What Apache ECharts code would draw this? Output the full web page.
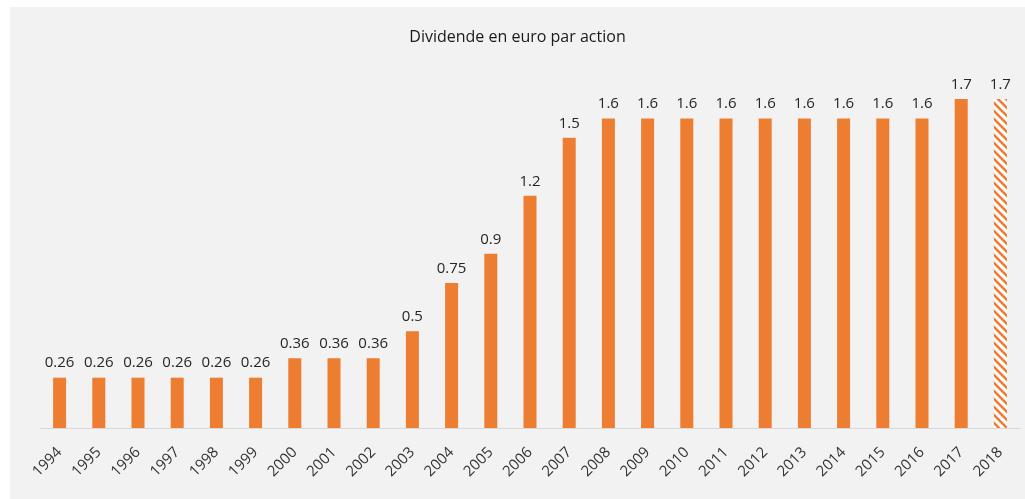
<!DOCTYPE html>
<html>
<head>
<meta charset="utf-8">
<script src="https://cdn.jsdelivr.net/npm/echarts@6/dist/echarts.min.js"></script>
<style>
html,body{margin:0;padding:0;background:#fff;}
#chart{position:absolute;left:10px;top:7px;width:1015px;height:492px;background:#f2f2f2;}
</style>
</head>
<body>
<div id="chart"></div>
<script>
var years = ['1994','1995','1996','1997','1998','1999','2000','2001','2002','2003','2004','2005','2006',
             '2007','2008','2009','2010','2011','2012','2013','2014','2015','2016','2017','2018'];
var dividends = [0.26,0.26,0.26,0.26,0.26,0.26,0.36,0.36,0.36,0.5,0.75,0.9,1.2,
                 1.5,1.6,1.6,1.6,1.6,1.6,1.6,1.6,1.6,1.6,1.7,1.7];
var projected = ['2018'];

// hatch pattern for the projected year
var hatch = document.createElement('canvas');
hatch.width = 8; hatch.height = 8;
var ctx = hatch.getContext('2d');
ctx.fillStyle = '#ffffff';
ctx.fillRect(0, 0, 8, 8);
ctx.strokeStyle = '#ed7d31';
ctx.lineWidth = 2.6;
ctx.beginPath();
ctx.moveTo(-2, -2); ctx.lineTo(10, 10);
ctx.moveTo(-2, 6); ctx.lineTo(2, 10);
ctx.moveTo(6, -2); ctx.lineTo(10, 2);
ctx.stroke();

var barData = dividends.map(function (v, i) {
  var item = {value: v};
  if (projected.indexOf(years[i]) >= 0) {
    item.itemStyle = {color: {image: hatch, repeat: 'repeat'}};
  }
  return item;
});

var chart = echarts.init(document.getElementById('chart'));
chart.setOption({
  backgroundColor: '#f2f2f2',
  textStyle: {fontFamily: 'Open Sans'},
  title: {
    text: 'Dividende en euro par action',
    left: 'center',
    top: 17,
    textStyle: {fontSize: 16, fontWeight: 'normal', color: '#1a1a1a', fontFamily: 'Open Sans'}
  },
  grid: {left: 30, right: 5, top: 34, bottom: 71},
  xAxis: {
    type: 'category',
    data: years,
    axisLine: {lineStyle: {color: '#d9d9d9', width: 1}},
    axisTick: {show: false},
    axisLabel: {rotate: 45, color: '#333333', fontSize: 15, margin: 22, interval: 0}
  },
  yAxis: {
    type: 'value',
    min: 0,
    max: 2,
    show: false
  },
  series: [{
    type: 'bar',
    data: barData,
    barWidth: 13,
    itemStyle: {color: '#ed7d31'},
    label: {
      show: true,
      position: 'top',
      distance: 7,
      color: '#262626',
      fontSize: 15
    }
  }]
});
</script>
</body>
</html>
